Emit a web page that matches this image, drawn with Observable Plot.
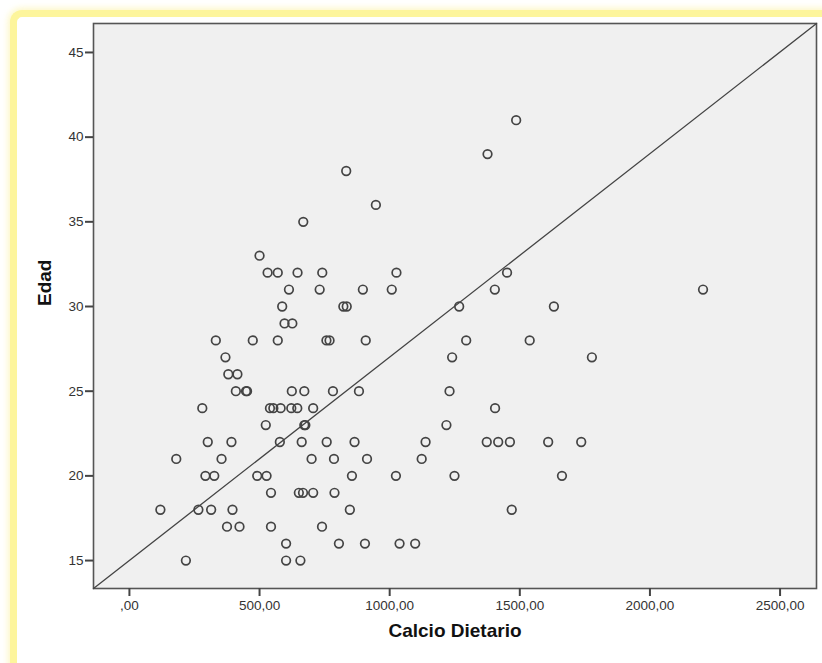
<!DOCTYPE html>
<html>
<head>
<meta charset="utf-8">
<script src="https://cdn.jsdelivr.net/npm/d3@7"></script>
<script src="https://cdn.jsdelivr.net/npm/@observablehq/plot@0.6"></script>
<style>
  html, body { margin: 0; padding: 0; background: #ffffff; }
  #wrap { position: relative; width: 822px; height: 663px; overflow: hidden; background: #fff; }
  #glow { position: absolute; left: 10px; top: 10px; width: 900px; height: 900px;
          border-left: 7px solid #fdf59c; border-top: 7px solid #fdf59c;
          border-top-left-radius: 12px; box-shadow: 0 0 6px 2px rgba(252,242,160,0.6);
          background: #fff; }
  #chart { position: absolute; left: 0; top: 0; }
</style>
</head>
<body>
<div id="wrap"><div id="glow"></div><div id="chart"></div></div>
<script>
// Data (Calcio Dietario vs Edad)
const calcio = [
  1486, 1376, 833, 947, 668, 500,
  531, 570, 646, 741, 1026, 1451,
  613, 731, 897, 1008, 1404, 2204,
  587, 822, 835, 1267, 1631,
  596, 626,
  332, 474, 570, 757, 769, 908, 1294, 1538,
  369, 1240, 1777,
  380, 415,
  409, 448, 452, 624, 672, 782, 882, 1230,
  280, 540, 553, 581, 622, 645, 706, 1405,
  524, 672, 676, 1218,
  301, 392, 578, 662, 758, 865, 1138, 1373, 1417, 1462, 1609, 1736,
  180, 354, 700, 786, 913, 1123,
  292, 326, 491, 527, 855, 1024, 1249, 1662,
  544, 651, 667, 706, 788,
  119, 265, 314, 396, 847, 1469,
  375, 423, 544, 740,
  602, 805, 905, 1038, 1098,
  217, 602, 657
];
const edad = [
  41, 39, 38, 36, 35, 33,
  32, 32, 32, 32, 32, 32,
  31, 31, 31, 31, 31, 31,
  30, 30, 30, 30, 30,
  29, 29,
  28, 28, 28, 28, 28, 28, 28, 28,
  27, 27, 27,
  26, 26,
  25, 25, 25, 25, 25, 25, 25, 25,
  24, 24, 24, 24, 24, 24, 24, 24,
  23, 23, 23, 23,
  22, 22, 22, 22, 22, 22, 22, 22, 22, 22, 22, 22,
  21, 21, 21, 21, 21, 21,
  20, 20, 20, 20, 20, 20, 20, 20,
  19, 19, 19, 19, 19,
  18, 18, 18, 18, 18, 18,
  17, 17, 17, 17,
  16, 16, 16, 16, 16,
  15, 15, 15
];
const xTicks = [0, 500, 1000, 1500, 2000, 2500];
const yTicks = [15, 20, 25, 30, 35, 40, 45];
const xDomain = [-138, 2640];
const yDomain = [13.35, 46.71];
const xLabel = "Calcio Dietario";
const yLabel = "Edad";

const points = calcio.map((c, i) => ({calcio: c, edad: edad[i]}));
const diag = [
  {calcio: xDomain[0], edad: yDomain[0]},
  {calcio: xDomain[1], edad: yDomain[1]}
];
const fmt = d => d === 0 ? ",00" : d.toFixed(2).replace(".", ",");

const chart = Plot.plot({
  width: 822,
  height: 663,
  marginLeft: 93,
  marginTop: 23,
  marginRight: 6,
  marginBottom: 75,
  style: {background: "transparent", fontFamily: "'Liberation Sans', Arial, sans-serif", fontSize: "13.5px", color: "#333"},
  x: {domain: xDomain, ticks: xTicks, tickFormat: fmt, label: null},
  y: {domain: yDomain, ticks: yTicks, label: null},
  marks: [
    Plot.frame({fill: "#f0f0f0", stroke: "#555", strokeWidth: 1.6}),
    Plot.axisX({ticks: xTicks, tickFormat: fmt, tickSize: 8, tickPadding: 4, strokeWidth: 2, stroke: "#444", fill: "#333", fontSize: 13.5}),
    Plot.axisY({ticks: yTicks, tickSize: 8, tickPadding: 2, strokeWidth: 2, stroke: "#444", fill: "#333", fontSize: 13.5}),
    Plot.line(diag, {x: "calcio", y: "edad", stroke: "#444", strokeWidth: 1.3}),
    Plot.dot(points, {x: "calcio", y: "edad", r: 4.3, stroke: "#444", strokeWidth: 1.7, fill: "none"}),
    Plot.text([xLabel], {frameAnchor: "bottom", dy: 48, text: d => d, fontWeight: "bold", fontSize: 19, fill: "#111"}),
    Plot.text([yLabel], {frameAnchor: "left", dx: -49, rotate: -90, text: d => d, fontWeight: "bold", fontSize: 19, fill: "#111"})
  ]
});
document.getElementById("chart").appendChild(chart);
</script>
</body>
</html>
